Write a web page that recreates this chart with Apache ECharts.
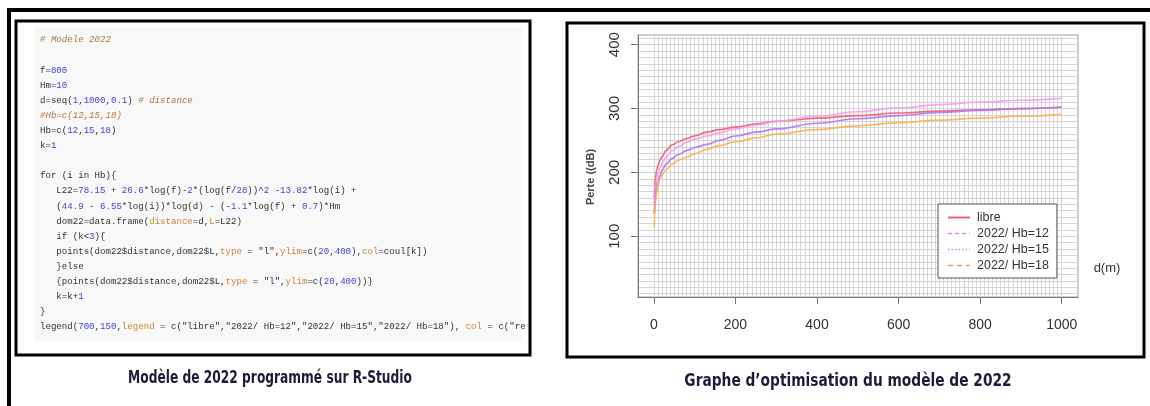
<!doctype html>
<html>
<head>
<meta charset="utf-8">
<title>Modèle de 2022</title>
<style>
  html, body { margin: 0; padding: 0; background: #fff; }
  #main { width: 1150px; height: 406px; }
</style>
</head>
<body>
<div id="main"></div>
<script src="https://cdn.jsdelivr.net/npm/echarts@6/dist/echarts.min.js"></script>
<script>
// distance (m) and path loss (dB)
var distance   = [1, 2, 4, 7, 10, 15, 20, 30, 45, 60, 80, 100, 130, 160, 200, 250, 300, 400, 500, 600, 700, 800, 900, 1000];
var perteLibre = [160, 176, 191, 204, 211, 219, 225, 234, 243, 248, 253, 257, 263, 267, 271, 276, 280, 285, 289, 293, 296, 298, 300, 302];
var perteHb12  = [148, 163, 178, 190, 198, 207, 214, 224, 234, 240, 247, 252, 257, 262, 268, 274, 280, 288, 295, 301, 306, 310, 313, 316];
var perteHb15  = [135, 150, 165, 177, 185, 195, 203, 213, 222, 228, 234, 239, 244, 250, 257, 263, 268, 277, 284, 289, 294, 297, 300, 302];
var perteHb18  = [114, 134, 153, 169, 179, 190, 196, 204, 213, 219, 224, 229, 236, 242, 248, 254, 260, 267, 273, 278, 282, 285, 288, 291];
var seriesNames = ['libre', '2022/ Hb=12', '2022/ Hb=15', '2022/ Hb=18'];
var seriesColors = ['#f0606e', '#f0a2ee', '#b476f2', '#f6b652'];
var legendColors = ['#f26070', '#ee8aee', '#c89af6', '#eea838'];
var legendDash = ['solid', [4, 3], [1.5, 2], [5, 4]];
var xTicks = [0, 200, 400, 600, 800, 1000];
var yTicks = [100, 200, 300, 400];

// dense background grid of the R plot (every 10 units)
var gridX = [];
for (var i = 0; i <= 100; i++) gridX.push(i * 10);
var gridY = [];
for (var j = 1; j <= 41; j++) gridY.push(j * 10);

// R script shown in the left panel
var codeLines = [
  '{c|# Modele 2022}',
  '',
  'f={n|800}',
  'Hm={n|10}',
  'd=seq({n|1},{n|1000},{n|0.1}) {c|# distance}',
  '{c|#Hb=c(12,15,18)}',
  'Hb=c({n|12},{n|15},{n|18})',
  'k={n|1}',
  '',
  'for (i in Hb){',
  '   L22={n|78.15} + {n|26.6}*log(f)-{n|2}*(log(f/{n|28}))^{n|2} -{n|13.82}*log(i) +',
  '   ({n|44.9} - {n|6.55}*log(i))*log(d) - (-{n|1.1}*log(f) + {n|0.7})*Hm',
  '   dom22=data.frame({a|distance}=d,{a|L}=L22)',
  '   if (k<{n|3}){',
  '   points(dom22$distance,dom22$L,{a|type} = "l",{a|ylim}=c({n|20},{n|400}),{a|col}=coul[k])',
  '   }else',
  '   {points(dom22$distance,dom22$L,{a|type} = "l",{a|ylim}=c({n|20},{n|400}))}',
  '   k=k+{n|1}',
  '}',
  'legend({n|700},{n|150},{a|legend} = c("libre","2022/ Hb=12","2022/ Hb=15","2022/ Hb=18"), {a|col} = c("re'
];

function pairs(ys) {
  return distance.map(function (d, k) { return [d, ys[k]]; });
}

var chart = echarts.init(document.getElementById('main'));

var captionFont = 'bold 17px "Liberation Sans Narrow", "DejaVu Sans Condensed", sans-serif';
var codeFont = '9.1px "Liberation Mono", monospace';

var graphics = [
  // outer frame
  { type: 'line', shape: { x1: 7, y1: 10, x2: 1150, y2: 10 }, style: { stroke: '#000', lineWidth: 4 } },
  { type: 'line', shape: { x1: 9, y1: 8, x2: 9, y2: 406 }, style: { stroke: '#000', lineWidth: 4 } },
  // left panel (code)
  { type: 'rect', shape: { x: 34, y: 28, width: 488, height: 313 }, style: { fill: '#f8f8f8' } },
  { type: 'rect', shape: { x: 16, y: 21, width: 514, height: 334 }, style: { fill: 'none', stroke: '#000', lineWidth: 3 } },
  // right panel (chart)
  { type: 'rect', shape: { x: 567, y: 23, width: 577, height: 334 }, style: { fill: 'none', stroke: '#000', lineWidth: 3 } },
  // captions
  { type: 'text', x: 270, y: 379, scaleX: 0.8, style: { text: 'Modèle de 2022 programmé sur R-Studio', fill: '#1c1c3a',
      font: captionFont, align: 'center', verticalAlign: 'middle' } },
  { type: 'text', x: 848, y: 382, scaleX: 0.9, style: { text: 'Graphe d\u2019optimisation du modèle de 2022', fill: '#1c1c3a',
      font: captionFont, align: 'center', verticalAlign: 'middle' } },
  // x label written beside the plot
  { type: 'text', x: 1107, y: 268, style: { text: 'd(m)', fill: '#333', font: '13px "Liberation Sans", Arial, sans-serif',
      align: 'center', verticalAlign: 'middle' } }
];

codeLines.forEach(function (line, k) {
  if (!line) return;
  graphics.push({
    type: 'text', x: 40, y: 40 + k * 15.1,
    style: {
      text: line, fill: '#333', font: codeFont, verticalAlign: 'middle',
      rich: {
        n: { fill: '#4444d8', font: codeFont },
        c: { fill: '#a87a45', font: 'italic ' + codeFont },
        a: { fill: '#c8873c', font: codeFont }
      }
    }
  });
});

var series = [perteLibre, perteHb12, perteHb15, perteHb18].map(function (ys, k) {
  return {
    name: seriesNames[k],
    type: 'line',
    data: pairs(ys),
    showSymbol: false,
    symbol: 'none',
    smooth: 0.4,
    smoothMonotone: 'x',
    lineStyle: { color: seriesColors[k], width: 1.7, opacity: 0.9 },
    itemStyle: { color: seriesColors[k] }
  };
});

chart.setOption({
  backgroundColor: '#fff',
  animation: false,
  textStyle: { fontFamily: '"Liberation Sans", Arial, sans-serif' },
  grid: {
    left: 638, top: 35, width: 440, height: 262,
    show: true, borderColor: '#a0a0a0', borderWidth: 1, backgroundColor: '#fff'
  },
  legend: {
    orient: 'vertical', left: 938, top: 204,
    backgroundColor: '#fff', borderColor: '#555', borderWidth: 1,
    padding: [7, 8, 6, 9], itemGap: 3, itemWidth: 22, itemHeight: 12,
    textStyle: { fontSize: 12.5, color: '#333', padding: [0, 0, 0, 2] },
    data: seriesNames.map(function (n, k) {
      return {
        name: n,
        itemStyle: { color: 'transparent', borderWidth: 0, opacity: 0 },
        lineStyle: { color: legendColors[k], width: k === 0 ? 2 : 1.5, type: legendDash[k], opacity: 1 }
      };
    })
  },
  xAxis: [
    {
      type: 'value', min: -38.96, max: 1039.96, position: 'bottom',
      axisLine: { show: true, onZero: false, lineStyle: { color: '#777' } },
      axisTick: { show: false, customValues: gridX },
      axisLabel: { show: false },
      splitLine: { show: true, lineStyle: { color: '#d4d4d4', width: 1 } }
    },
    {
      type: 'value', min: -38.96, max: 1039.96, position: 'bottom',
      axisLine: { show: false, onZero: false },
      axisTick: { show: true, length: 7, customValues: xTicks, lineStyle: { color: '#777' } },
      axisLabel: {
        show: true, customValues: xTicks, margin: 21, fontSize: 14, color: '#333',
        formatter: function (v) { return String(v); }
      },
      splitLine: { show: false }
    }
  ],
  yAxis: [
    {
      type: 'value', min: 4.8, max: 415.2, position: 'left',
      axisLine: { show: true, onZero: false, lineStyle: { color: '#777' } },
      axisTick: { show: false, customValues: gridY },
      axisLabel: { show: false },
      splitLine: { show: true, lineStyle: { color: '#d4d4d4', width: 1 } }
    },
    {
      type: 'value', min: 4.8, max: 415.2, position: 'left',
      name: 'Perte ((dB)', nameLocation: 'middle', nameGap: 42, nameRotate: 90,
      nameTextStyle: { fontSize: 11, fontWeight: 'bold', color: '#444', padding: [0, 22, 0, 0] },
      axisLine: { show: false, onZero: false },
      axisTick: { show: true, length: 7, customValues: yTicks, lineStyle: { color: '#777' } },
      axisLabel: { show: true, customValues: yTicks, rotate: 90, margin: 16, fontSize: 15, color: '#333' },
      splitLine: { show: false }
    }
  ],
  graphic: graphics,
  series: series
});

window.onresize = chart.resize;
</script>
</body>
</html>
